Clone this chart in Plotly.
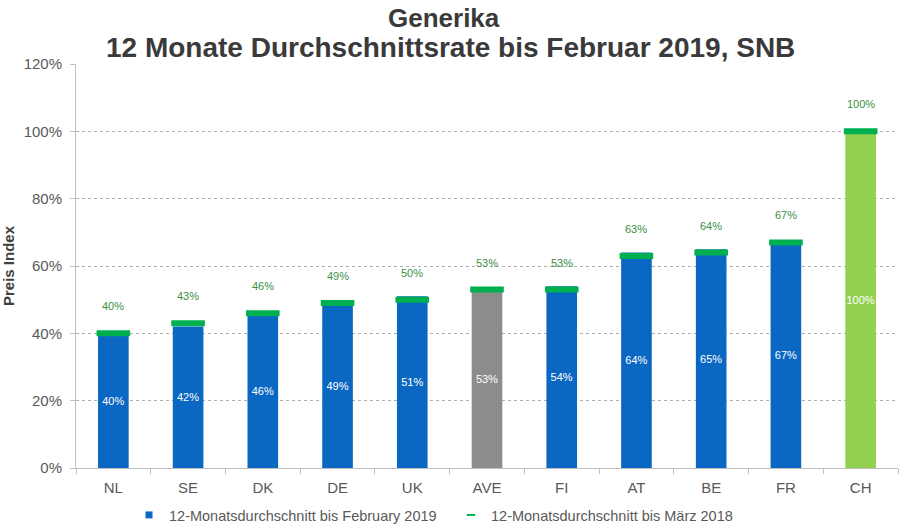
import plotly.graph_objects as go

categories = ["NL", "SE", "DK", "DE", "UK", "AVE", "FI", "AT", "BE", "FR", "CH"]
values_feb2019 = [40, 42, 46, 49, 51, 53, 54, 64, 65, 67, 100]
values_mar2018 = [40, 43, 46, 49, 50, 53, 53, 63, 64, 67, 100]
bar_colors = ["#0a67c2"] * 5 + ["#8c8c8c"] + ["#0a67c2"] * 4 + ["#92d050"]
y_ticks = [0, 20, 40, 60, 80, 100, 120]
y_tick_labels = [f"{v}%" for v in y_ticks]
title_lines = ["Generika", "12 Monate Durchschnittsrate bis Februar 2019, SNB"]

W, H = 900, 524
L, R, T, B = 76, 2, 64, 56
PH = H - T - B
PW = W - L - R

fig = go.Figure()
fig.add_trace(go.Bar(
    x=categories, y=values_feb2019,
    marker=dict(color=bar_colors, line=dict(width=0)),
    width=0.41,
    text=[f"{v}%" for v in values_feb2019],
    textposition="inside", insidetextanchor="middle", textangle=0,
    textfont=dict(color="white", size=11, family="Liberation Sans"),
    name="12-Monatsdurchschnitt bis February 2019",
    showlegend=False,
))
fig.add_trace(go.Scatter(
    x=[None], y=[None], mode="markers",
    marker=dict(symbol="square", size=7, color="#0a67c2"),
    name="12-Monatsdurchschnitt bis February 2019",
))
fig.add_trace(go.Scatter(
    x=categories, y=values_mar2018, mode="markers",
    marker=dict(symbol="line-ew", size=24, color="#00b050",
                line=dict(width=6, color="#00b050")),
    name="12-Monatsdurchschnitt bis März 2018",
    showlegend=False,
))
fig.add_trace(go.Scatter(
    x=[None], y=[None], mode="markers",
    marker=dict(symbol="line-ew", size=6, color="#00b050",
                line=dict(width=2, color="#00b050")),
    name="12-Monatsdurchschnitt bis März 2018",
))

for c, v in zip(categories, values_mar2018):
    fig.add_annotation(x=c, y=v, text=f"{v}%", showarrow=False,
                       yshift=27, font=dict(color="#3a8f45", size=11, family="Liberation Sans"))

fig.add_annotation(text=f"<b>{title_lines[0]}</b>", xref="paper", yref="paper",
                   x=(444 - L) / PW, y=1.0 + (T - 18) / PH, yanchor="middle", showarrow=False,
                   font=dict(size=26, color="#3a3a3a", family="Liberation Sans"))
fig.add_annotation(text=f"<b>{title_lines[1]}</b>", xref="paper", yref="paper",
                   x=(450 - L) / PW, y=1.0 + (T - 48) / PH, yanchor="middle", showarrow=False,
                   font=dict(size=28, color="#3a3a3a", family="Liberation Sans"))

fig.update_layout(
    width=W, height=H,
    margin=dict(l=L, r=R, t=T, b=B, autoexpand=False),
    plot_bgcolor="white", paper_bgcolor="white",
    font=dict(family="Liberation Sans", color="#595959"),
    legend=dict(orientation="h", x=(129 - L) / PW, xanchor="left", y=-(47 / PH), yanchor="middle",
                font=dict(size=14.5, color="#595959"), itemwidth=30,
                entrywidth=277, entrywidthmode="pixels",
                tracegroupgap=0),
    uniformtext=dict(minsize=11, mode="show"),
    bargap=0.59,
)
fig.update_yaxes(
    range=[0, 120], tickvals=y_ticks, ticktext=y_tick_labels,
    showgrid=True, gridcolor="#b0b0b0", griddash="3px,3px", gridwidth=1,
    showline=True, linecolor="#bfbfbf", linewidth=1,
    ticks="outside", ticklen=5, tickcolor="#bfbfbf", ticklabelstandoff=5,
    tickfont=dict(size=15, color="#595959"),
    title=dict(text="<b>Preis Index</b>", font=dict(size=15, color="#404040"), standoff=19),
    zeroline=False, automargin=False,
)
fig.update_xaxes(
    range=[-0.5, len(categories) - 0.5],
    showline=True, linecolor="#bfbfbf", linewidth=1,
    ticks="outside", ticklen=5, tickcolor="#bfbfbf", tickson="boundaries",
    ticklabelstandoff=6,
    tickfont=dict(size=15, color="#595959"), automargin=False,
)

fig.write_html("out.html", config={"displayModeBar": False},
               post_script="document.body.style.margin='0';")
